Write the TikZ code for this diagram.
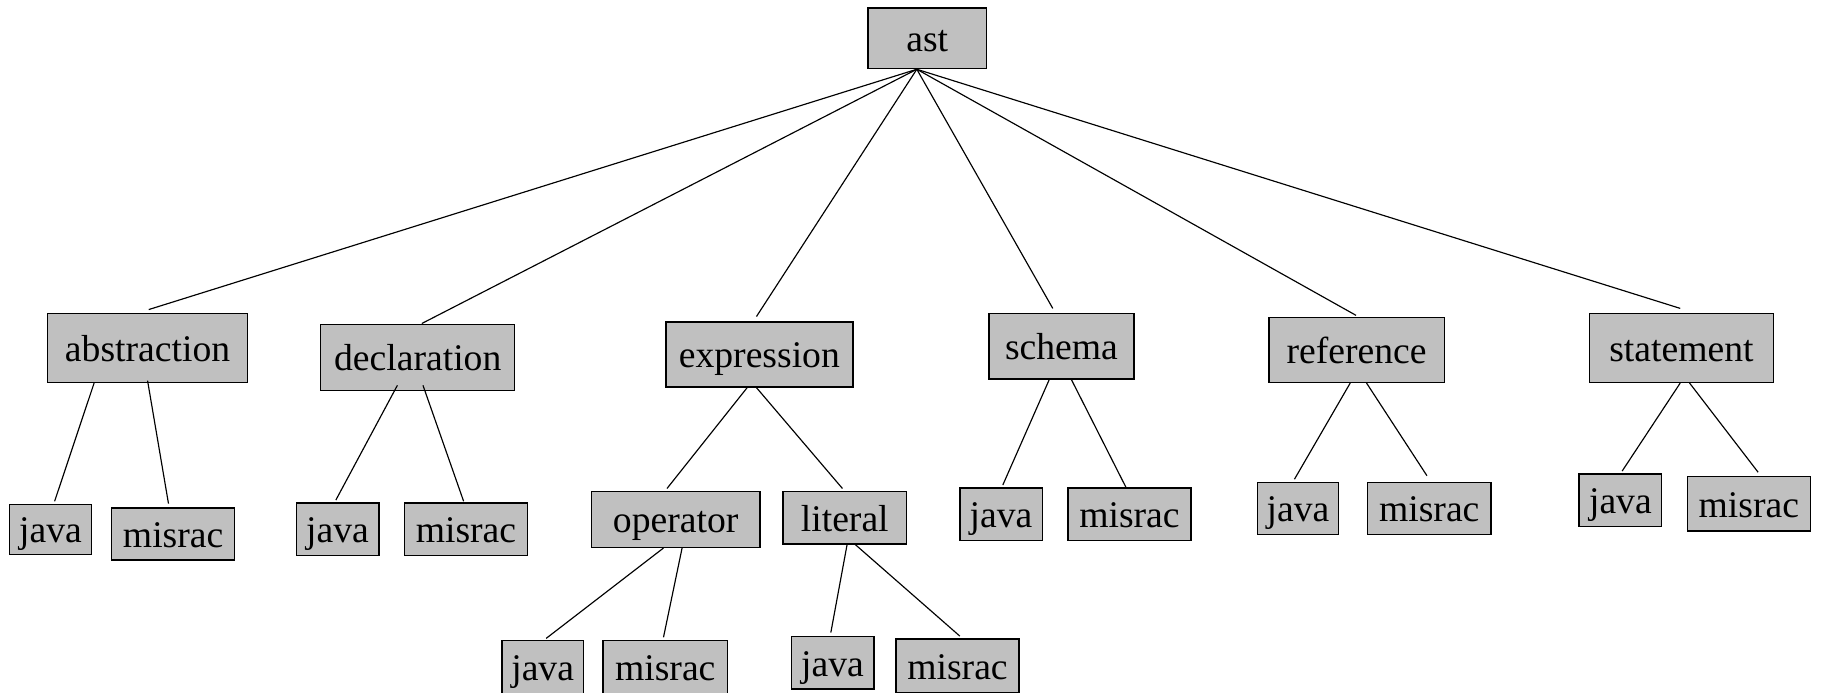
\documentclass[tikz,border=0pt]{standalone}
\usepackage{fontspec}
\usetikzlibrary{calc}
\newfontfamily\treefont{Liberation Serif}
\definecolor{boxgray}{HTML}{C0C0C0}
\tikzset{
  tbox/.style={draw=black, fill=boxgray, line width=0.6pt, inner sep=0pt,
    font={\treefont\fontsize{16.2}{18}\selectfont},
    text height=11.5pt, text depth=0pt},
  sz/.style 2 args={minimum width=#1*0.5pt, minimum height=#2*0.5pt},
  link/.style={draw=black, line width=0.5pt},
}
\begin{document}
\begin{tikzpicture}[x=0.5pt, y=-0.5pt]
\useasboundingbox (0,0) rectangle (1568,596);
\clip (0,0) rectangle (1568,596);
% root
\node[tbox, sz={102}{52}] (ast) at (798,33) {ast};
% level 1
\node[tbox, sz={172}{59}] (abs) at (127,299.5) {abstraction};
\node[tbox, sz={167}{57}] (decl) at (359.5,307.5) {declaration};
\node[tbox, sz={161}{56}] (expr) at (653.5,305) {expression};
\node[tbox, sz={125}{56}] (sch) at (913.5,298) {schema};
\node[tbox, sz={151}{56}] (ref) at (1167.5,301) {reference};
\node[tbox, sz={158}{59}] (stmt) at (1447,299.5) {statement};
% level 2
\node[tbox, sz={71}{43}] (absj) at (43.5,455.5) {java};
\node[tbox, sz={106}{45}] (absm) at (149,459.5) {misrac};
\node[tbox, sz={71}{45}] (declj) at (290.5,455.5) {java};
\node[tbox, sz={106}{45}] (declm) at (401,455.5) {misrac};
\node[tbox, sz={145}{48}] (op) at (581.5,447) {operator};
\node[tbox, sz={106}{45}] (lit) at (727,445.5) {literal};
\node[tbox, sz={71}{45}] (schj) at (861.5,442.5) {java};
\node[tbox, sz={106}{45}] (schm) at (972,442.5) {misrac};
\node[tbox, sz={70}{45}] (refj) at (1117,437.5) {java};
\node[tbox, sz={106}{45}] (refm) at (1230,437.5) {misrac};
\node[tbox, sz={71}{45}] (stmtj) at (1394.5,430.5) {java};
\node[tbox, sz={106}{47}] (stmtm) at (1505,433.5) {misrac};
% level 3
\node[tbox, sz={70}{46}] (opj) at (467,574) {java};
\node[tbox, sz={107}{46}] (opm) at (572.5,574) {misrac};
\node[tbox, sz={71}{45}] (litj) at (716.5,570.5) {java};
\node[tbox, sz={106}{46}] (litm) at (824,573) {misrac};

% connectors are drawn over the boxes
% root to level 1
\coordinate (hub) at ($(ast.south)+(-9,0)$);
\draw[link] (hub) -- ($(abs.north)+(1,-3)$);
\draw[link] (hub) -- ($(decl.north)+(3.5,0)$);
\draw[link] (hub) -- ($(expr.north)+(-2.5,-4)$);
\draw[link] (hub) -- ($(sch.north)+(-7.5,-4)$);
\draw[link] (hub) -- ($(ref.north)+(-0.5,-1)$);
\draw[link] (hub) -- ($(stmt.north)+(-1,-4)$);
% level 1 to level 2
\draw[link] ($(abs.south)+(-46,0)$) -- ($(absj.north)+(3.5,-2)$);
\draw[link] ($(abs.south)+(0,-2)$) -- ($(absm.north)+(-4,-3)$);
\draw[link] ($(decl.south)+(-17.5,-5)$) -- ($(declj.north)+(-1.5,-2)$);
\draw[link] ($(decl.south)+(4.5,-5)$) -- ($(declm.north)+(-2,-1)$);
\draw[link] ($(expr.south)+(-10.5,0)$) -- ($(op.north)+(-7.5,-2)$);
\draw[link] ($(expr.south)+(-2.5,0)$) -- ($(lit.north)+(-2,-2)$);
\draw[link] ($(sch.south)+(-10.5,0)$) -- ($(schj.north)+(1.5,-2)$);
\draw[link] ($(sch.south)+(8.5,0)$) -- ($(schm.north)+(-3,0)$);
\draw[link] ($(ref.south)+(-5.5,0)$) -- ($(refj.north)+(-3,-2)$);
\draw[link] ($(ref.south)+(8.5,0)$) -- ($(refm.north)+(-2,-5)$);
\draw[link] ($(stmt.south)+(-1,0)$) -- ($(stmtj.north)+(1.5,-2)$);
\draw[link] ($(stmt.south)+(7,0)$) -- ($(stmtm.north)+(8,-3)$);
% level 2 to level 3
\draw[link] ($(op.south)+(-10.5,0)$) -- ($(opj.north)+(3,-1)$);
\draw[link] ($(op.south)+(5.5,0)$) -- ($(opm.north)+(-1.5,-2)$);
\draw[link] ($(lit.south)+(2,0)$) -- ($(litj.north)+(-1.5,-3)$);
\draw[link] ($(lit.south)+(9,0)$) -- ($(litm.north)+(2,-2)$);
\end{tikzpicture}
\end{document}
